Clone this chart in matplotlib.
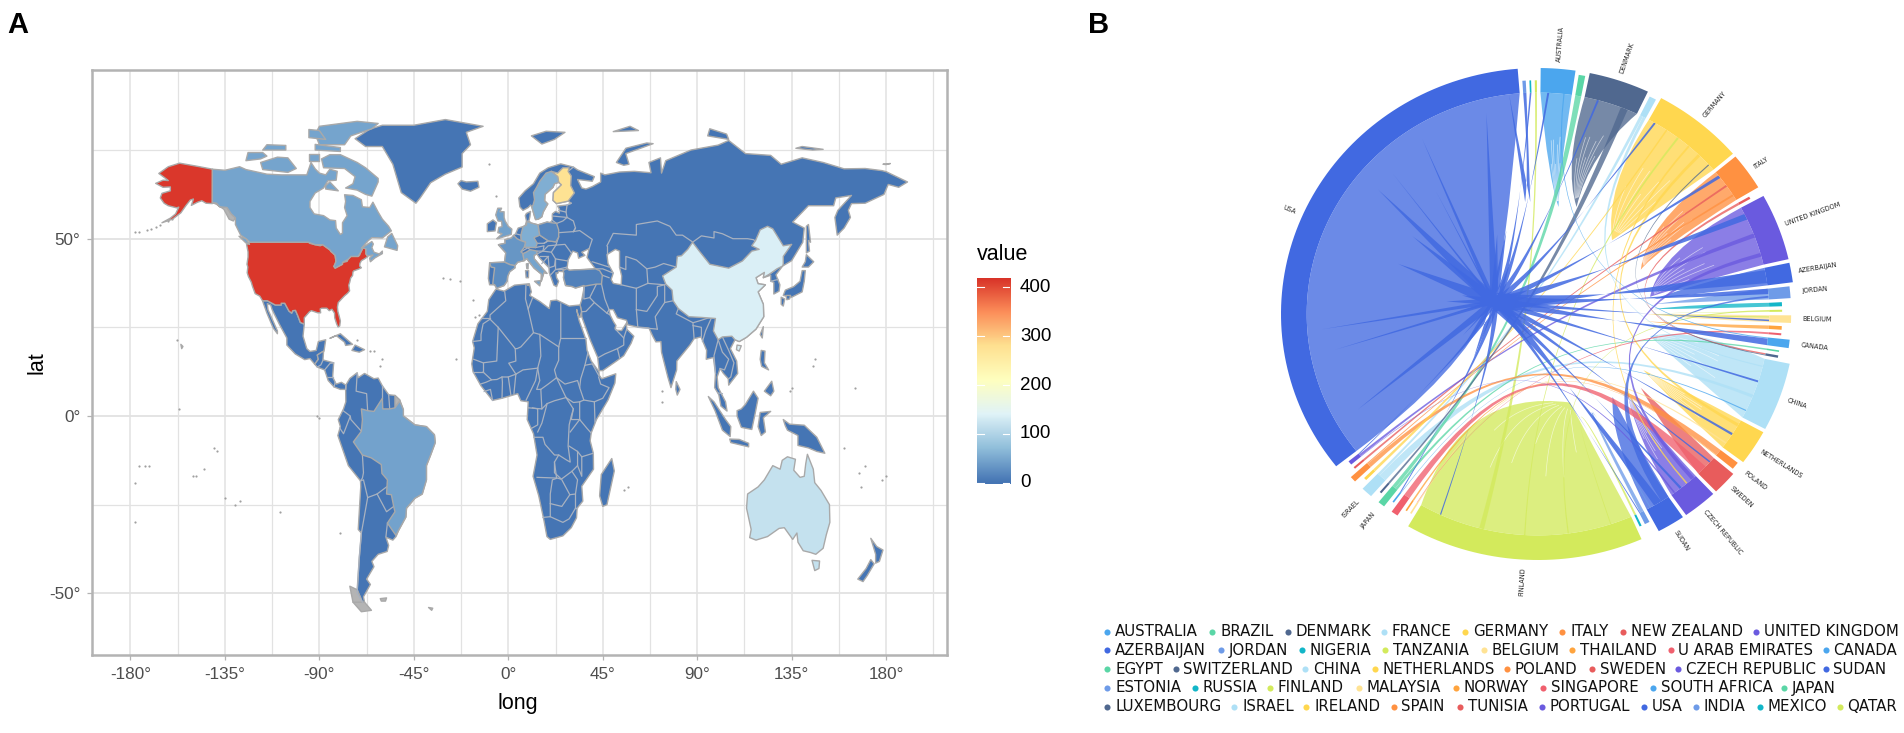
import numpy as np
import matplotlib
matplotlib.use('Agg')
import matplotlib.pyplot as plt
from matplotlib.path import Path
from matplotlib.patches import PathPatch, Polygon
from matplotlib.colors import LinearSegmentedColormap, Normalize

W, H = 1904, 733
NARROW = ['Liberation Sans', 'DejaVu Sans']

# ---------------------------------------------------------------- map data
map_values = {'USA': 415, 'ALASKA': 415, 'CANADA': 45, 'BRAZIL': 43, 'CHINA': 135, 'AUSTRALIA': 115,
              'FINLAND': 275, 'SWEDEN': 55, 'GERMANY': 55, 'FRANCE': 32, 'UK': 42, 'SPAIN': 22,
              'ITALY': 45, 'POLAND': 18, 'TURKEY': 12, 'BASE': 0}

land_base = [
 [(-9.5,38.8),(-8.9,43.2),(-1.8,43.4),(-1.2,46),(-4.7,48.3),(-1.5,48.7),(-1.6,49.7),(1.5,50.2),(3.5,51.4),(4.7,53),(8,53.6),(8.7,54.9),(8.1,56.5),(8.6,57.1),(10.6,57.7),(10.3,56.2),(9.8,55),(10.9,54.4),(14.2,53.9),(18.5,54.7),(19.8,54.4),(21,55.2),(21,57),(22.5,57.7),(24.3,57.2),(24.4,58.3),(23.5,59.2),(28,59.5),(30,60),(28.5,60.6),(23,59.9),(21.3,60.8),(21.5,63),(25.3,65.2),(24,65.9),(22,65.5),(21.3,64.5),(17.5,62.5),(17.3,60.7),(18.8,59.8),(16.6,57.5),(16,56.2),(14.3,55.5),(13,55.4),(12.5,56.3),(11.2,59),(10.6,59.5),(9.5,58.8),(7,58),(5.5,59),(5,61.5),(8,63.5),(12,65.5),(15,68.5),(19,70),(25,71.1),(31,70.2),(33,69.4),(41,67.5),(40,66.2),(33,66.7),(35,64.3),(37,64),(40,64.7),(44,66),(44,68.5),(46,68),(53,68.8),(60,69),(68,68.6),(67,71.5),(72.5,72.8),(73,68.5),(75,72),(81,73.5),(87,75),(100,76.4),(105,77.7),(113,74),(125,73.5),(130,71),(140,72.8),(150,71.5),(160,69.7),(170,69.8),(178,69.2),(180,68.9),(190.2,66),(186,64.5),(181,65.3),(179,62.5),(170,60),(163.5,59.9),(162,58),(163,56),(160,53),(156.7,51),(155.6,56),(157,58),(163.5,62.2),(156,61.5),(155,59.3),(143,59.3),(135.5,54.7),(141,53),(140.3,49),(135,43.8),(130.7,42.3),(127.5,39.8),(129.4,37),(129,35.2),(126.5,34.4),(126.5,37.7),(125,38),(125,39.7),(121.5,39),(122,40.5),(118,39),(119,37.3),(122.5,37),(119,35),(121.5,31.5),(121.7,28),(118,24.5),(113.5,22.2),(110,21),(108,21.5),(105.8,19),(108.8,15.5),(109.3,12),(105,8.7),(104.8,10.5),(102.5,12),(100.9,13.4),(99.5,11),(100,8),(103.5,4),(104.2,1.4),(101.3,2.8),(100.3,6),(98.3,8),(98.7,12),(97.7,16.5),(94.3,16),(94.5,18.5),(91.8,22.3),(88.5,21.8),(86.5,20),(80.3,15.5),(80.2,13),(77.5,8),(76,11),(73,18),(72.7,21),(70.3,20.9),(69,22.3),(67,24.8),(61.5,25.1),(57,25.7),(56.3,27),(52,27.7),(50,30),(48,30),(48.5,28.5),(50.2,26.5),(51.3,25.5),(50.8,24.8),(51.5,24.2),(54,24.1),(56.3,26.2),(56.4,24.5),(59.8,22.5),(58.5,20.5),(55,17),(52,15.7),(45,12.8),(43.3,12.8),(42.6,16.5),(39,21.5),(35,28),(34.9,29.5),(34.2,31.3),(35,32.8),(35.9,35.5),(36,36.8),(32,36.1),(30.5,36.5),(27.3,36.8),(26.3,39),(26.5,40.3),(29,41),(31.5,41.2),(36,41.3),(41.5,41.5),(37.5,44.7),(38.5,47.2),(35,46.2),(36.5,45.3),(33.5,44.5),(33,46),(30.7,46.5),(28.5,44),(28,41.6),(29,41.1),(26.3,40.7),(24,40.8),(23.5,40.2),(22.7,40.4),(23,39),(24,38),(23,36.5),(21.7,36.9),(19.5,40.5),(19.4,41.8),(15,44.5),(13.6,45.7),(12.3,45.3),(12.4,44.3),(16,41.8),(18.4,40.2),(17,40.5),(15.7,38),(15.8,40),(12.3,41.7),(10.3,43.2),(8.8,44.4),(7.5,43.8),(4.5,43.4),(3.1,42.4),(3.2,41.8),(0.7,40.7),(-0.3,39.4),(-0.6,38),(-2,36.8),(-5.5,36),(-6.5,37),(-8.9,37),(-9.5,38.8)],
 [(-5.9,35.8),(-2,35.2),(3,36.9),(10,37.3),(11,35),(10.2,34),(15,32.3),(19.5,30.3),(20.2,32.5),(23,32.7),(29,31),(32.3,31.2),(34.2,31.3),(34.9,29.5),(34.2,27.8),(33.2,28.5),(32.6,30),(33.7,27),(35.5,24),(37,21.5),(37.5,18.5),(39.5,15.5),(43.2,12.5),(43.3,11.5),(44.5,10.5),(51.2,11.9),(50.8,9.3),(47.5,4.5),(42,-1),(39.5,-4.8),(39,-7),(40.5,-10.5),(40.6,-15),(35,-19.8),(35.5,-24),(32.8,-26),(32.5,-28.7),(30,-31.5),(26,-33.8),(20,-34.8),(18.4,-34),(17,-29.5),(14.5,-22.5),(11.8,-17),(13.7,-11),(12,-5),(9,-1),(9.5,4),(6,4.3),(4.5,6.3),(-3,5),(-7.5,4.4),(-13,8.5),(-16.8,12.5),(-17.4,14.7),(-16.2,19.2),(-17,21),(-14.5,26),(-10,29.5),(-9.3,32.8)],
 [(-77.4,8.7),(-75.5,10.6),(-72,12.2),(-71.5,10.8),(-68.5,12),(-64,10.5),(-62,10.7),(-60,8.5),(-57,6),(-54,5.8),(-51.7,4.5),(-50,1.8),(-50,0),(-44.5,-2.5),(-39,-3),(-35.2,-5.3),(-34.8,-7.5),(-37,-11),(-39,-14),(-39,-18),(-41,-22),(-44.5,-23.2),(-48.5,-26),(-48.8,-28.5),(-52.3,-32.3),(-53.5,-34),(-55,-35),(-58.3,-34.2),(-57,-36.5),(-57.7,-38.2),(-62,-39),(-65,-41),(-64,-42.5),(-67.5,-46),(-65.7,-47.5),(-69,-51),(-68.5,-52.5),(-69.5,-52.5),(-72,-49),(-71,-40),(-70,-33),(-71.5,-32),(-70.3,-20),(-70.4,-18.3),(-76.2,-14),(-81.2,-5.5),(-80,-3),(-81,-1),(-78.5,2),(-77.4,4),(-77.5,7.5)],
 [(-117.1,32.5),(-114.8,32.5),(-111,31.3),(-108.2,31.3),(-108.2,31.8),(-106.5,31.8),(-104.5,29.6),(-103.2,29),(-102.7,29.7),(-101.4,29.8),(-100.3,28.3),(-99.1,26.4),(-97.2,25.9),(-97.8,22.5),(-96,19),(-94.5,18.2),(-91.5,18.5),(-90.5,21),(-87,21.5),(-87.8,18.3),(-89.1,17.9),(-91,17.2),(-90.5,16),(-92.2,14.6),(-94.5,16.2),(-97,15.9),(-101.5,17.5),(-105.5,20),(-105.5,22),(-109,25.8),(-112.5,30),(-113.2,31.3),(-114.8,31.7),(-114.5,30),(-110,24),(-110,23.2),(-112,24.8),(-115,29)],
 [(-92.2,14.6),(-90.5,16),(-91,17.2),(-89.1,17.9),(-88,18.3),(-88.3,15.8),(-83.2,15),(-83.7,11),(-82,9),(-79.5,9.5),(-77.4,8.7),(-77.5,7.5),(-80,7.5),(-83,8.2),(-85.8,10),(-87.5,13),(-91,13.8)],
 [(-73,78.2),(-68,76),(-60,76),(-55,71),(-53,67),(-51,63),(-44,60),(-42,61.5),(-37,65.8),(-30,68.2),(-22,70.2),(-22,74),(-18,76.5),(-20,80),(-12,81.7),(-30,83.6),(-45,82),(-60,82),(-66,80.9)],
 [(-24,65.5),(-22,64),(-18,63.4),(-14,64.5),(-14.5,66.2),(-20,66),(-22.5,66.4)],
 [(-10,52),(-6.3,52.2),(-6,53.5),(-5.6,54.5),(-7.3,55.3),(-10,54.2)],
 [(131,-1),(134,-2.3),(141,-2.6),(147,-6),(150.8,-10.5),(147,-10),(143,-9),(138,-8.3),(138,-5.5),(133,-4),(132,-2.8)],
 [(109,1.5),(111,2),(113,3.3),(116.8,7),(119,5),(117.7,1),(116,-3.8),(111,-3.2),(109,0)],
 [(95.3,5.5),(98,4),(103.5,-1),(106,-3),(105.7,-5.8),(102,-4),(98.5,1.5)],
 [(105.5,-6.5),(110,-6.6),(114.5,-7.7),(114.5,-8.7),(106,-7.5)],
 [(120,1),(125,1.3),(121.5,-.5),(122.5,-4.5),(120.5,-5.5),(119,-3)],
 [(120.5,18.5),(122.3,18.3),(122,15),(124,13),(120.7,14),(120,16)],
 [(122,7),(125.5,9.8),(126.5,7),(125,5.7)],
 [(80,9.7),(81.8,7.5),(80.5,5.9),(79.8,7.5)],
 [(49.3,-12),(50.5,-15.5),(47,-25),(45,-25.5),(43.5,-22.5),(44.3,-16.5)],
 [(172.7,-34.5),(175.5,-36.8),(178.5,-37.8),(176.8,-41),(175,-41.5),(175,-39),(174,-37)],
 [(172.7,-40.5),(174.3,-41.7),(171,-45),(169,-46.7),(166.5,-46),(170.5,-43)],
 [(131,34),(135,33.5),(140,35),(141,38),(141.5,41),(140,41),(139,38),(136,36.5),(132,35.5)],
 [(130,33.5),(131.7,33),(131,31),(130,31.5)],
 [(132.3,34),(134.5,34),(134,33),(132.7,32.8)],
 [(140,42),(143,42),(145.5,43.5),(142,45.5),(141.5,43.5)],
 [(142,46),(143.5,46.5),(143,49.5),(144,49),(143,54),(142,53.5),(142,49)],
 [(-85,21.9),(-80,23.2),(-74.2,20.2),(-77.5,19.9),(-78,20.8),(-82,22.7)],
 [(-74.5,18.5),(-73,20),(-68.5,18.7),(-71,18)],
 [(51.5,71.5),(55,70.7),(57.5,71),(56,74),(69,76.8),(66,77),(56,75.5)],
 [(11,79),(16,76.7),(22,78),(27,80),(18,80.3)],
 [(50,80.2),(62,80.5),(58,81.7)],
 [(95,79),(105,78),(104,79.5),(96,81)],
 [(137,75.5),(145,75),(150,75.2),(140,76)],
 [(178.5,71),(182,71.2),(180,70.9)],
 [(120,23),(121.5,25.2),(121,22)],
 [(8.2,41),(9.7,41),(9.6,39),(8.5,39)],
]
no_data = [
 [(-54,5.8),(-51.7,4.5),(-51.7,4.2),(-54,2.3)],
 [(-61,-51.5),(-58,-51.3),(-58.5,-52.2),(-60.5,-52.2)],
 [(-38,-54),(-36,-54.2),(-36.5,-54.8)],
 [(-74,-52.5),(-69.5,-52.5),(-68.5,-52.5),(-65.2,-54.8),(-70,-55.2)],
 [(-75.5,-48),(-72,-49),(-69.5,-52.5),(-74,-52.5)],
 [(-156,20.2),(-155,19.6),(-155.6,19)],
 [(-141,60.2),(-139,59.7),(-135.5,58.3),(-133,55.5),(-131,55),(-130,55.9),(-132,57),(-134,58.8),(-137.5,59),(-139,60)],
 [(9,37),(9.8,37),(9.5,36.8)],
]
country_shapes = {
 'USA': [[(-124.7,48.4),(-123,49),(-95.2,49),(-94.6,48.7),(-92,48.3),(-89.6,48),(-88.4,48.3),(-84.9,46.8),(-84.5,46.4),(-83.6,46.1),(-82.5,45.3),(-82.1,43.6),(-82.5,42.6),(-83.1,42.2),(-82.5,41.7),(-79,42.8),(-79,43.3),(-76.8,43.6),(-76.3,44.2),(-75,45),(-71.5,45),(-70.9,45.3),(-70.3,46.2),(-69.9,46.7),(-69.2,47.4),(-68.3,47.3),(-67.8,47.1),(-67.8,45.7),(-67,44.9),(-68.5,44.3),(-70,43.8),(-70.7,43),(-70.8,42.3),(-70,41.8),(-71.4,41.4),(-73.7,40.9),(-74,40.6),(-74.2,39.6),(-75.1,38.9),(-75.5,37.8),(-76,36.9),(-75.6,35.3),(-76.6,34.6),(-78,33.9),(-79.3,33.1),(-81,32),(-81.4,30.7),(-81.2,29.5),(-80.5,28),(-80,26.8),(-80.3,25.4),(-81.1,25.1),(-81.8,26),(-82.7,27.7),(-82.8,29),(-84,30.1),(-85.3,29.7),(-86.5,30.4),(-88.9,30.4),(-89.6,30.2),(-89.4,29.1),(-90.8,29.1),(-93.8,29.7),(-94.7,29.4),(-97.2,27.7),(-97.2,25.9),(-99.1,26.4),(-100.3,28.3),(-101.4,29.8),(-102.7,29.7),(-103.2,29),(-104.5,29.6),(-106.5,31.8),(-108.2,31.8),(-108.2,31.3),(-111,31.3),(-114.8,32.5),(-117.1,32.5),(-118.4,33.8),(-120.6,34.5),(-121.9,36.6),(-122.5,37.8),(-123.8,39.3),(-124.4,40.4),(-124.1,42),(-124.5,42.8),(-124,44.8),(-124,46.3)]],
 'ALASKA': [[(-140.9,69.6),(-148,70.4),(-156.6,71.3),(-162,70.3),(-166.5,68.4),(-163.5,67.1),(-162,66.4),(-164.5,66.5),(-168,65.6),(-164.5,64.5),(-161,64.6),(-161,63.5),(-165,62.8),(-165.8,61.5),(-164,60),(-162,59.3),(-158,58.7),(-157,58.9),(-158.5,57),(-161,55.8),(-165,54.5),(-160,55.5),(-156,57.3),(-153.5,59.4),(-151.5,60.9),(-150,61.2),(-151,59.4),(-148,60.3),(-146,60.7),(-144,60),(-141,59.9)]],
 'CANADA': [[(-141,69.6),(-135,69.3),(-128,70.3),(-125,69.5),(-115,68.2),(-108,68),(-102,68),(-96,68),(-94,71.5),(-92,69.7),(-90,68.5),(-87,68),(-85,69.6),(-81.5,69),(-82,66.5),(-86,66.3),(-88,64.3),(-92,62.9),(-94.5,60.5),(-94.5,58.8),(-92.5,57),(-88,56.5),(-85,55.3),(-82.3,55.1),(-82,53),(-80,51.2),(-79,51.6),(-79,54.5),(-76.8,56.5),(-78,58.8),(-77.5,60.5),(-78,62.4),(-74,62.2),(-70,61),(-69.5,59),(-66,58.8),(-64.5,60.3),(-62,57.5),(-60,55.5),(-57,53.5),(-55.7,52.2),(-60,50.2),(-65,50.3),(-67,49.3),(-70,47.3),(-65,49.2),(-64.3,48.5),(-65,47.5),(-64,46.2),(-61.5,45.7),(-60,46.5),(-60,45.8),(-63.5,44.6),(-65.7,43.5),(-66.1,44.5),(-64.5,45.4),(-67,45.1),(-67.8,45.7),(-67.8,47.1),(-69.2,47.4),(-70.3,46.2),(-71.5,45),(-75,45),(-76.3,44.2),(-79,43.3),(-79,42.8),(-82.5,41.7),(-83.1,42.2),(-82.1,43.6),(-82.5,45.3),(-84.5,46.4),(-84.9,46.8),(-88.4,48.3),(-92,48.3),(-95.2,49),(-123,49),(-125,50),(-127.5,51),(-130,54),(-130,55.9),(-132,57),(-134,58.8),(-137.5,59),(-139,60),(-141,60.2)],
   [(-62,66),(-65,62),(-68,62.5),(-72,63.7),(-77.5,64.3),(-74,65.5),(-73,67.5),(-78,69.8),(-88,70),(-89,72.5),(-85,73.7),(-80,73.7),(-72,71.5),(-68,70),(-62,67)],
   [(-117,69.5),(-105,68.7),(-101,69.8),(-105,72.8),(-110,73),(-118,71.5)],
   [(-125,72),(-118,72.5),(-115,73.3),(-117,74.3),(-124,74.3)],
   [(-117,75),(-106,75),(-106,76.3),(-115,76.5)],
   [(-90,76.5),(-78,76.5),(-75,79),(-65,81),(-62,82.5),(-72,83.1),(-90,81.7),(-92,79.5)],
   [(-95,78.5),(-87,78),(-90,80.5),(-95,80.8)],
   [(-92,75),(-80,74.6),(-80,75.7),(-92,76.6)],
   [(-95,72),(-90,72),(-90,74),(-95,74)],
   [(-87,64),(-81,63.5),(-85,66),(-87,65)],
   [(-59,47.7),(-53,46.7),(-52.7,48),(-55.5,51.5),(-57.5,50.5)],
   [(-128.3,50.7),(-125,50),(-123.3,48.4),(-125,48.8)]],
 'BRAZIL': [[(-51.7,4.2),(-50,1.8),(-50,0),(-44.5,-2.5),(-39,-3),(-35.2,-5.3),(-34.8,-7.5),(-37,-11),(-39,-14),(-39,-18),(-41,-22),(-44.5,-23.2),(-48.5,-26),(-48.8,-28.5),(-52.3,-32.3),(-53.5,-33.7),(-57.6,-30.2),(-54,-27),(-54.6,-25.5),(-55.7,-22.2),(-58,-22),(-57.6,-18),(-60.2,-16.2),(-60.5,-13.7),(-65.3,-11.8),(-69.5,-11),(-73.8,-7.3),(-70,-4.3),(-69.5,-1),(-70,2),(-67,1.5),(-64,1.3),(-60,5),(-59.8,2),(-56.5,2),(-54,2.3)]],
 'CHINA': [[(73.5,39.5),(80,42),(80.5,45),(82.5,45.2),(85.5,47),(87.8,49),(91,46.5),(96,42.8),(105,41.7),(111.5,43.7),(116,46.5),(119.5,47),(116,48),(117.8,49.5),(120,52.5),(123.5,53.5),(126,52.8),(131,48),(135,48.4),(131,45),(131,42.9),(130.7,42.3),(128,41.5),(124.4,40),(121.5,39),(122,40.5),(118,39),(119,37.3),(122.5,37),(119,35),(121.5,31.5),(121.7,28),(118,24.5),(113.5,22.2),(110,21),(108,21.5),(106.5,22.5),(102,22.3),(100,21.5),(97.7,24),(98.7,27.5),(92,27.8),(86,28),(81,30.3),(78.5,32.5),(78,35.5),(75,37.2)],
   [(109,20),(111,19.8),(110,18.3),(108.7,18.7)]],
 'AUSTRALIA': [[(114,-22),(113.5,-26),(115.7,-32),(115,-34.3),(118,-35),(123.5,-34),(129,-31.7),(131.5,-31.5),(135.5,-34.8),(137.5,-33),(138,-35.6),(140.5,-38),(144,-38.5),(146.5,-39),(150,-37.3),(151.5,-33.5),(153.2,-30),(153,-25),(149,-21),(146,-18.8),(145.3,-15),(142.5,-10.8),(141.7,-13.5),(141,-17),(139,-17.3),(136,-15.3),(136.8,-12.2),(133,-11.5),(130.5,-12.5),(129.5,-15),(126,-14),(122,-18),(119,-20)],
   [(144.7,-40.7),(148.3,-40.9),(148,-43),(146,-43.6)]],
 'FINLAND': [[(24,65.9),(25.3,65.2),(21.5,63),(21.3,60.8),(23,59.9),(28.5,60.6),(31.5,62.9),(29.7,65),(30,67.7),(28.5,69),(29,70),(26,70),(23.5,68.5),(20.5,69),(23.5,67.5)]],
 'SWEDEN': [[(11.2,59),(12.5,56.3),(13,55.4),(14.3,55.5),(16,56.2),(16.6,57.5),(18.8,59.8),(17.3,60.7),(17.5,62.5),(21.3,64.5),(22,65.5),(24,65.9),(23.5,67.5),(20.5,69),(18,68.5),(15,66.2),(13.5,64.5),(12,63),(12.5,61),(11.8,59.5)]],
 'GERMANY': [[(6,51),(7,53.4),(8.7,53.9),(8.7,54.9),(11,54.4),(14.2,53.9),(14.7,52),(15,51),(12.2,50.3),(13.8,48.7),(13,47.5),(7.6,47.6),(8.2,49),(6.2,49.5)]],
 'FRANCE': [[(-1.8,43.4),(-1.2,46),(-4.7,48.3),(-1.5,48.7),(-1.6,49.7),(1.5,50.2),(2.5,51),(4.2,50),(5.8,49.5),(8.2,49),(7.6,47.6),(6,46.3),(7,45.8),(7.5,43.8),(4.5,43.4),(3.1,42.4),(0.7,42.7)],
   [(8.6,42.9),(9.5,43),(9.4,41.5),(8.8,41.6)]],
 'UK': [[(-5,50),(1.4,51.2),(1.7,52.7),(0,53.5),(-1.5,55),(-2,56),(-2,57.6),(-4,57.6),(-3.2,58.6),(-5,58.6),(-6,56.7),(-4.9,55),(-3.2,54.9),(-3,53.4),(-4.5,53.2),(-5,51.7),(-3,51.4),(-5.5,50)]],
 'SPAIN': [[(-8.9,43.2),(-1.8,43.4),(0.7,42.7),(3.1,42.4),(3.2,41.8),(0.7,40.7),(-0.3,39.4),(-0.6,38),(-2,36.8),(-5.5,36),(-6.5,37),(-7.4,37.2),(-7,39.5),(-6.5,41.8),(-8.2,42)]],
 'ITALY': [[(7,45.8),(8.5,46.2),(10.5,46.9),(13.7,46.5),(13.6,45.7),(12.3,45.3),(12.4,44.3),(16,41.8),(18.4,40.2),(17,40.5),(15.7,38),(15.8,40),(12.3,41.7),(10.3,43.2),(8.8,44.4),(7.5,43.8)],
   [(12.5,38),(15.5,38.2),(15,36.7)]],
 'POLAND': [[(14.2,53.9),(18.5,54.7),(23,54.3),(24,52.5),(24,50.5),(22.7,49.1),(19,49.4),(15,51),(14.7,52)]],
 'TURKEY': [[(26,41),(28,41.6),(29,41.1),(31.5,41.2),(36,41.3),(41.5,41.5),(43.5,41),(44.8,39.7),(44.4,37.2),(42,37.2),(36.2,36.6),(36,36.8),(32,36.1),(30.5,36.5),(27.3,36.8),(26.3,39),(26.5,40.3)]],
}
caspian = [(47,45.5),(51,47),(53,46.5),(53,42),(54,39.5),(53.8,37),(50,37.4),(49,38.5),(50,40.3),(47.5,43)]
borders = [
 [(-1.7,35),(-1.2,32.5),(-8.7,28.5),(-8.7,27.3),(-4.8,25),(3.3,19),(4.2,19),(6,19.5),(12,23.5),(9.5,30),(8.2,33),(8.4,36.9)],
 [(-13,27.7),(-8.7,27.7)],[(11.5,33.2),(9.5,30.2)],[(25,31.6),(25,22),(24,19.5)],[(25,22),(37,22)],[(12,23.5),(15,23),(24,19.5)],
 [(3.3,19),(3.6,15.5),(0.2,14.9),(3.6,11.8),(7,13),(14,13.5),(15.5,16.9),(15,23)],[(14,13.5),(15,10),(13.5,7.5),(15.5,7.5),(19,9),(23,10.8),(22,13),(24,15.7),(24,19.5)],
 [(-17,21),(-13,21.3),(-13,23),(-12,26),(-8.7,27.3)],[(-4.8,25),(-5.5,15.5),(-12,15),(-16.5,16)],[(-12,15),(-12,12.4),(-16.8,12.4)],
 [(-12,12.4),(-8,10.2),(-5.4,10.3),(-3,11),(0,11),(3.6,11.8)],[(-13.3,9),(-10.7,9.5),(-8,10.2)],[(-11.5,6.9),(-8.5,7.5),(-7.5,4.4)],[(-3,5),(-2.8,9.5),(-3,11)],[(1.2,6),(0,11)],[(2.7,6.4),(3.6,11.8)],[(8.5,4.5),(13,10),(14,13.5)],
 [(9.7,2.3),(16,2),(15.5,7.5)],[(23,10.8),(27.5,5.2),(22,4.3),(18.5,3.5),(16,2)],[(11.5,2.3),(14,2),(14,-2.5),(11,-3.5)],
 [(12.2,-6),(16.5,-6),(17.5,-8),(22,-11),(24,-11),(28,-12.5),(29.5,-13),(28.5,-8.5),(29,-2.5),(30,0),(31,2),(27.5,5.2)],[(18.5,3.5),(16,-2),(14,-4.5)],
 [(13.7,-17.3),(23,-17.5),(22,-13),(24,-11)],[(16.5,-28.6),(20,-28.4),(20,-22),(21,-18),(23.4,-17.5),(25,-17.8)],[(20,-24.7),(25.5,-25.5),(29.3,-22.2),(25.5,-18)],
 [(22,-13),(22,-16),(25.3,-17.8),(30.3,-15.6),(33,-14),(33,-10),(29,-8.5)],[(29.3,-22.2),(32,-22),(33,-18),(30.3,-15.6)],[(32,-22),(32,-26),(32.8,-26)],[(33,-14),(35,-17),(35,-11.5),(40.5,-10.5)],
 [(33,-10),(35,-11.5)],[(29.5,-4.5),(34,-1),(37.5,-3.5),(39.3,-4.7)],[(34,-1),(34,4),(36,4.5),(41,4),(41.3,-1.7)],[(36,4.5),(34,8),(34.5,10.5),(36.5,14.3),(40,14.7),(43,11.5)],[(41,4),(45,5),(48,8),(44,9),(43,11)],
 [(23,10.8),(27,9),(33,10),(34,8)],[(27.5,5.2),(31,3.8),(34,4)],[(31,2),(30,-1),(34,-1)],[(36.5,14.3),(38,18)],[(32,-26),(29,-29),(26,-30),(20,-28.4)],
 [(21,56.4),(28,56)],[(23,54.3),(26,55),(28,56),(31,55),(32,53),(31,52),(24,51.7)],[(21,55.2),(23,54.3)],[(24,58),(27.5,57.5)],[(28,59.5),(27.5,57.5),(28,56)],
 [(24,50.5),(22.7,48.2),(27,48.4),(30,46)],[(31,52),(34,52.3),(40,49.8),(38.5,47.2)],[(22.7,48.2),(20.5,46.2),(22.5,44.3),(28.5,43.7)],[(22.5,44.3),(22.5,41.3),(26,41.7),(28,42)],[(20,39.7),(22.5,41.3),(26.3,41.3)],
 [(13.6,45.7),(16.5,46.5),(20.5,46.2)],[(16.5,46.5),(19,48),(22.7,48.2)],[(17,48.7),(19,49.4),(22.7,49.1)],[(15,51),(19,49.4),(17,48.7),(13.8,48.7)],[(13,47.5),(17,48),(16.5,46.5),(13.7,46.5)],[(9.5,47.3),(10.5,46.9)],[(6,46.3),(9.5,47.5)],
 [(19.4,41.8),(22,42.3),(22.5,44.3)],[(16,43),(19,45),(19.4,42)],[(15,45),(19,45)],[(3.5,51.4),(6,51)],[(6,51),(6.2,49.5)],[(8.7,54.9),(9.5,55)],[(5.8,49.5),(6.2,49.5)],
 [(28,59.5),(30,60)],[(28.5,69),(31,70.2)],[(47,48),(50,51.5),(61,51),(61,54),(71,55),(77,53.5),(80,51),(83,51),(87.5,49.2)],[(47,45.5),(47,48)],
 [(87.8,49),(92,50.8),(98,50.2),(98,52),(102,51.4),(107,50),(114,50),(117,49.7),(119.5,47)],[(53,42),(56,41.3),(56,45),(61,44),(66,41.5),(70,42),(74,43),(80,42)],
 [(53.8,37),(61,36),(66.5,37.4),(66,41.5)],[(61,36),(61,30),(66,29.5),(71,34),(71,36.5),(74.5,37),(66.5,37.4)],[(61,30),(61.7,25)],[(71,24.5),(70,28),(74.5,32),(74.5,37),(75,37.2)],[(61.7,25),(71,24.5)],
 [(44.8,39.7),(48,39)],[(44.4,37.2),(46,33),(48,30)],[(42,37.2),(38.8,33.4),(41,32),(47,29),(48,30)],[(36.2,36.6),(36,33),(38.8,33.4)],[(35,29.4),(37,29.5),(41,32)],[(47,29),(48.5,28.5)],
 [(51,24.5),(55,22),(55,20),(52,19),(53,16.5)],[(43,16.5),(46,17.5),(52,19)],[(55,22),(56.4,24.5)],[(78.5,32.5),(74.5,32)],[(81,30.3),(80,28.8),(88,26.3),(92,27),(97,28)],[(97,28),(94,24),(92.5,21)],[(88,26),(88.5,22)],[(88,25.5),(92,25),(92,22.5)],
 [(100,21.5),(98,17),(98.7,12)],[(100,21.5),(102,18),(105,16),(103,13),(100.9,13.4)],[(100,6.5),(102,6.3)],[(102,22.3),(105,18.5),(107.5,15),(106,11),(105,10.5)],[(125,38),(128.5,38.5)],[(40,43.5),(48,42)],[(41.5,41.5),(45,41.5),(50,40.3)],[(31,52),(32,53)],[(124.4,40),(128,41.5)],
 [(-72,12),(-72.5,7),(-67.5,6.3),(-67,1.5)],[(-60,8.5),(-60,5)],[(-57,6),(-56.5,2)],[(-78.7,1.5),(-75.3,0),(-75,-1),(-70,-4.3)],[(-80.3,-3.4),(-78.5,-5),(-75.3,-0.1)],[(-69.5,-11),(-69,-16),(-69.5,-17.5),(-70.4,-18.3)],
 [(-70.4,-18.3),(-69,-18),(-67,-23),(-70,-33),(-71,-40),(-72,-50),(-69.5,-52.5)],[(-67,-23),(-62.5,-22),(-58,-20)],[(-62.5,-22),(-58,-27),(-54.6,-25.5)],[(-58.3,-34),(-57.6,-30.2)],
 [(-91,13.8),(-89.3,14.4),(-88.3,15.7)],[(-87.5,13),(-85,14.8),(-83.2,15)],[(-85.8,11),(-83.7,11)],[(-83,8.2),(-82.5,9.5)],[(-77.5,7.5),(-77.4,8.7)],
]
island_lon = [-172,-170,-168,-166,-176,-178,-162,-160,-158,-176,-173,-171,-157,-150,-149,-145,-140,-139,-135,-130,-128,-178,-91,-90,-109,-80,-60,-61,-64,-66,-72,-25,-16,-17,-14,-23,-31,-28,-9,-6,57,55,73,73,145,146,167,168,160,178,170,165,135,134,180,-178]
island_lat = [52.5,52.8,53.2,53.8,52,51.8,55,55.5,21.4,-14,-14,-14,2,-17,-17,-15,-9,-10,-23,-25,-24,-30,0,-0.5,-27,-33,16,14,18.3,18.2,21.5,16,28,32.7,28.5,38,39,38.5,71,62,-20,-21,4,7,14,16,-16,-20,-9,-18,-14,8,8,7,-17,-19]

# ---------------------------------------------------------------- chord data
names = ['AUSTRALIA','BRAZIL','DENMARK','FRANCE','GERMANY','ITALY','NEW ZEALAND','UNITED KINGDOM',
         'AZERBAIJAN','JORDAN','NIGERIA','TANZANIA','BELGIUM','THAILAND','U ARAB EMIRATES','CANADA',
         'EGYPT','SWITZERLAND','CHINA','NETHERLANDS','POLAND','SWEDEN','CZECH REPUBLIC','SUDAN',
         'ESTONIA','RUSSIA','FINLAND','MALAYSIA','NORWAY','SINGAPORE','SOUTH AFRICA','JAPAN',
         'LUXEMBOURG','ISRAEL','IRELAND','SPAIN','TUNISIA','PORTUGAL','USA','INDIA','MEXICO','QATAR']
sizes = [7.8,1.5,13.7,1.6,20.7,8.8,.6,15.8,4.6,2.8,1,.5,1.8,.9,.5,2,.4,.6,16.2,8.3,1.8,5.6,7.8,6.3,
         1.2,.5,54.1,.4,.4,1.6,.4,1.6,.5,2.6,.7,1.4,.5,1,123.7,.8,.4,.5]
palette = ['#4BA6EE','#5AD6A6','#50688F','#AEE0F6','#FFD74F','#FF9141','#E85C5C','#6A5ADF','#4169E1',
           '#6E9BE8','#12B6C8','#D3EA5C','#FFE394','#FFA43E','#F0606E']
labelled = ['AUSTRALIA','DENMARK','GERMANY','ITALY','UNITED KINGDOM','AZERBAIJAN','JORDAN','BELGIUM','CANADA',
            'CHINA','NETHERLANDS','POLAND','SWEDEN','CZECH REPUBLIC','SUDAN','FINLAND','JAPAN','ISRAEL','USA']
fans = {
 'USA': ((-.18,.04),(-.30,-.24),(-.13,.18)),
 'FINLAND': ((.125,-.36),(.22,-.55),(-.30,-.30)),
 'GERMANY': ((.288,.30),(.26,.52),(.47,.43)),
 'DENMARK': ((.15,.435),(.1,.6),(.2,.65)),
 'AUSTRALIA': ((.08,.435),(.04,.55),(.08,.55)),
 'ITALY': ((.40,.18),(.42,.36),(.45,.25)),
 'UNITED KINGDOM': ((.436,.07),(.47,.25),(.52,.1)),
 'AZERBAIJAN': ((.45,.06),(.6,.12),(.6,.08)),
 'JORDAN': ((.45,.04),(.6,.06),(.6,.05)),
 'NIGERIA': ((.45,.02),(.6,.04),(.6,.02)),
 'BELGIUM': ((.42,.0),(.6,.0),(.6,-.02)),
 'THAILAND': ((.42,-.03),(.6,-.04),(.6,-.05)),
 'CHINA': ((.436,-.09),(.6,-.05),(.55,-.2)),
 'NETHERLANDS': ((.41,-.228),(.55,-.3),(.52,-.35)),
 'SWEDEN': ((.40,-.30),(.5,-.4),(.48,-.45)),
 'CZECH REPUBLIC': ((.345,-.31),(.4,-.42),(.38,-.5)),
 'SUDAN': ((.29,-.337),(.37,-.5),(.28,-.5)),
}
links = [
 ('USA','AUSTRALIA',.1,.5,.3),('USA','DENMARK',.1,.5,.3),('USA','GERMANY',.55,.5,.3),('USA','ITALY',.35,.8,.3),
 ('USA','UNITED KINGDOM',.5,1.6,.3),('USA','AZERBAIJAN',.5,3.4,.3),('USA','JORDAN',.3,2.3,.3),('USA','BELGIUM',.05,.4,.3),
 ('USA','CANADA',.3,1.7,.3),('USA','CHINA',.05,.5,.3),('USA','NETHERLANDS',.1,.6,.3),('USA','SWEDEN',.05,.4,.3),
 ('USA','CZECH REPUBLIC',.55,.6,.3),('USA','SUDAN',.5,2.4,.3),('USA','ESTONIA',.05,.3,.3),('USA','FINLAND',.05,.3,.3),
 ('USA','SOUTH AFRICA',.5,.4,.3),('USA','PORTUGAL',.05,.3,.3),('USA','INDIA',.9,.7,.3),('USA','MEXICO',.55,.4,.3),
 ('FINLAND','QATAR',1.2,.4,.22),('FINLAND','TANZANIA',.3,.5,.25),('FINLAND','GERMANY',.3,.5,.25),('FINLAND','RUSSIA',.2,.4,.3),
 ('FRANCE','ISRAEL',.8,.5,.2),('CHINA','ISRAEL',.8,1.6,.22),('CHINA','FRANCE',.3,.8,.25),('JAPAN','BRAZIL',.7,1.2,.22),
 ('EGYPT','JAPAN',.3,.5,.2),('SINGAPORE','SWEDEN',1.3,2.4,.2),('SPAIN','POLAND',1.2,1.7,.2),('TUNISIA','ITALY',.4,.5,.2),
 ('PORTUGAL','UNITED KINGDOM',.8,1.1,.2),('PORTUGAL','CZECH REPUBLIC',.2,.4,.2),('IRELAND','GERMANY',.5,.4,.2),
 ('LUXEMBOURG','DENMARK',.5,1.8,.2),('MALAYSIA','NETHERLANDS',.3,.4,.2),('NORWAY','POLAND',.3,.2,.2),
 ('ITALY','SPAIN',.5,.3,.2),('GERMANY','NETHERLANDS',.8,.8,.25),('GERMANY','CZECH REPUBLIC',.5,.4,.3),
 ('CZECH REPUBLIC','UNITED KINGDOM',1.0,1.0,.3),('SUDAN','JORDAN',2.2,.5,.35),('ESTONIA','SUDAN',1.2,.3,.3),
 ('NEW ZEALAND','SWITZERLAND',.5,.5,.3),('U ARAB EMIRATES','MALAYSIA',.5,.1,.3),('SWITZERLAND','GERMANY',.3,.3,.3),
 ('CANADA','AUSTRALIA',.3,.3,.3),('SOUTH AFRICA','CHINA',.2,.3,.2),('TANZANIA','BELGIUM',.2,.3,.3),
]
legend_rows = [
 ['AUSTRALIA','BRAZIL','DENMARK','FRANCE','GERMANY','ITALY','NEW ZEALAND','UNITED KINGDOM'],
 ['AZERBAIJAN','JORDAN','NIGERIA','TANZANIA','BELGIUM','THAILAND','U ARAB EMIRATES','CANADA'],
 ['EGYPT','SWITZERLAND','CHINA','NETHERLANDS','POLAND','SWEDEN','CZECH REPUBLIC','SUDAN'],
 ['ESTONIA','RUSSIA','FINLAND','MALAYSIA','NORWAY','SINGAPORE','SOUTH AFRICA','JAPAN'],
 ['LUXEMBOURG','ISRAEL','IRELAND','SPAIN','TUNISIA','PORTUGAL','USA','INDIA','MEXICO','QATAR'],
]
legend_x = [[52,252,396,579,733,918,1033,1287],[52,269,423,581,769,936,1124,1419],[52,182,429,561,812,975,1138,1419],
            [52,218,361,530,716,882,1091,1340],[52,294,431,597,724,879,1073,1172,1294,1446]]
legend_y = [631.7,650.3,669,688,706.7]

# ---------------------------------------------------------------- figure
fig = plt.figure(figsize=(W/100, H/100), dpi=100, facecolor='white')
def axpx(l, t, r, b, **kw):
    return fig.add_axes([l/W, 1-b/H, (r-l)/W, (b-t)/H], **kw)

PX_LON, X0, PX_LAT, Y0 = 2.099, 508.3, 3.546, 416.0
ax = axpx(92, 70, 947, 655)
ax.set_xlim((92-X0)/PX_LON, (947-X0)/PX_LON)
ax.set_ylim((Y0-655)/PX_LAT, (Y0-70)/PX_LAT)
cmap = LinearSegmentedColormap.from_list('ryb', ['#4575B4','#91BFDB','#E0F3F8','#FFFFBF','#FEE090','#FC8D59','#D73027'])
norm = Normalize(0, 420)
GRID, EDGE = '#E2E2E2', '#A9A9A9'
for v in np.arange(-180, 225, 45):
    ax.axvline(v, color=GRID, lw=1.1, zorder=0)
for v in np.arange(-157.5, 225, 45):
    ax.axvline(v, color=GRID, lw=0.9, zorder=0)
for v in [50, 0, -50]:
    ax.axhline(v, color=GRID, lw=1.3, zorder=0)
for v in [75, 25, -25]:
    ax.axhline(v, color=GRID, lw=0.9, zorder=0)
def poly(pts, fc, lw=1.0, z=2):
    ax.add_patch(Polygon(pts, closed=True, fc=fc, ec=EDGE, lw=lw, zorder=z, joinstyle='round'))
for p in land_base:
    poly(p, cmap(norm(map_values['BASE'])))
for p in no_data:
    poly(p, '#B4B4B4', z=2.2)
poly(caspian, 'white', z=2.1)
for x in borders:
    a = np.array(x)
    ax.plot(a[:,0], a[:,1], color='#A9B2C0', lw=0.9, zorder=2.5, solid_joinstyle='round')
for name, shapes in country_shapes.items():
    for p in shapes:
        poly(p, cmap(norm(map_values[name])), z=3)
ax.scatter(island_lon, island_lat, s=2.5, color='#A0A0A0', lw=0, zorder=2)
for s in ax.spines.values():
    s.set_color('#B3B3B3'); s.set_linewidth(1.8)
ax.set_xticks(np.arange(-180, 225, 45))
ax.set_xticklabels(['%d°' % v for v in np.arange(-180, 225, 45)], family=NARROW, fontsize=12.3, color='#4D4D4D')
ax.set_yticks([-50, 0, 50])
ax.set_yticklabels(['-50°', '0°', '50°'], family=NARROW, fontsize=12.3, color='#4D4D4D')
ax.tick_params(axis='both', length=3.5, width=0.9, color='#B3B3B3', pad=5)
fig.text(518/W, 1-703/H, 'long', family=NARROW, fontsize=15.5, ha='center', va='center', color='black')
fig.text(37/W, 1-363/H, 'lat', family=NARROW, fontsize=15.5, ha='center', va='center', rotation=90, color='black')

cax = axpx(977, 277.7, 1010, 484.3)
grad = np.linspace(419.6, -3, 256).reshape(-1, 1)
cax.imshow(grad, aspect='auto', cmap=cmap, norm=norm, extent=[0, 1, -3, 419.6])
cax.set_axis_off()
for v in [0, 100, 200, 300, 400]:
    cax.plot([0, .2], [v, v], color='white', lw=.8)
    cax.plot([.8, 1], [v, v], color='white', lw=.8)
    fig.text(1020/W, 1-(482.7-v*.488)/H, str(v), family=NARROW, fontsize=13.5, va='center', color='black')
fig.text(977/W, 1-255/H, 'value', family=NARROW, fontsize=15.5, va='center', color='black')

fig.text(7/W, 1-25/H, 'A', family=['Liberation Sans'], fontsize=21, fontweight='bold', va='center')
fig.text(1088/W, 1-25/H, 'B', family=['Liberation Sans'], fontsize=21, fontweight='bold', va='center')

# panel B ---------------------------------------------------------
CX, CY, RX, RY, EXT = 1538, 314, 257, 246, 1.25
cb = axpx(CX-RX*EXT, CY-RY*EXT, CX+RX*EXT, CY+RY*EXT)
cb.set_xlim(-EXT, EXT); cb.set_ylim(-EXT, EXT); cb.set_axis_off(); cb.patch.set_alpha(0)
colors = {n: palette[i % 15] for i, n in enumerate(names)}
gap = (360 - sum(sizes)) / len(sizes)
starts, pos = {}, 0.6
for n, s in zip(names, sizes):
    starts[n] = (pos, pos + s)
    pos += s + gap
RIN = 0.90
def e(t, r=1.0):
    t = np.deg2rad(t)
    return np.array([r*np.sin(t), r*np.cos(t)])
def arc(a, b, r=RIN, n=None):
    n = n or max(3, int(abs(b-a)/1.5)+2)
    return [e(t, r) for t in np.linspace(a, b, n)]
def add_path(verts, codes, color, alpha, z):
    cb.add_patch(PathPatch(Path(np.array(verts), codes), fc=color, ec='none', alpha=alpha, zorder=z))
def quad(P0, C, P1, n=18):
    t = np.linspace(0, 1, n)[:, None]
    return (1-t)**2*P0 + 2*t*(1-t)*C + t**2*P1
def bez_pts(P0, C1, C2, P3, n=24):
    t = np.linspace(0, 1, n)[:, None]
    return (1-t)**3*P0 + 3*t*(1-t)**2*C1 + 3*t**2*(1-t)*C2 + t**3*P3

def fan(name):
    a0, a1 = starts[name]
    apex, c0, c1 = fans[name]
    apex, c0, c1 = map(np.array, (apex, c0, c1))
    v = [e(a0, RIN), c0, apex, c1, e(a1, RIN)]
    c = [Path.MOVETO, Path.CURVE3, Path.CURVE3, Path.CURVE3, Path.CURVE3]
    for p in arc(a1, a0)[1:]:
        v.append(p); c.append(Path.LINETO)
    add_path(v, c, colors[name], .78, 3)
    if a1 - a0 > 7 and name != 'USA':
        for f in np.linspace(.18, .85, 7):
            t = a0 + f*(a1-a0)
            ctrl = c0*(1-f) + c1*f
            ts = np.linspace(.25 + .25*np.sin(f*9)**2, .9, 18)[:, None]
            P0 = e(t, RIN)
            pts = (1-ts)**2*P0 + 2*ts*(1-ts)*ctrl + ts**2*apex
            cb.plot(pts[:,0], pts[:,1], color='white', lw=.5, alpha=.6, zorder=3.2)
for n in fans:
    fan(n)

alloc = {n: [] for n in names}
for i, (a, b, wa, wb, k) in enumerate(links):
    alloc[a].append((i, 0, wa, b)); alloc[b].append((i, 1, wb, a))
sub = {}
for n, items in alloc.items():
    a0, a1 = starts[n]; span = a1 - a0; mid = (a0+a1)/2
    items.sort(key=lambda it: -(((sum(starts[it[3]])/2 - mid) % 360)))
    if not items:
        continue
    if n in fans:
        for j, it in enumerate(items):
            c = a0 + (j+.5)*span/len(items)
            w = min(it[2], span/len(items))
            sub[(it[0], it[1])] = (c-w/2, c+w/2)
    else:
        tot = sum(it[2] for it in items); p = a0
        for it in items:
            w = it[2]/tot*span
            sub[(it[0], it[1])] = (p, p+w); p += w

HUB = np.array([-.17, .05])
for i, (a, b, wa, wb, k) in enumerate(links):
    a0, a1 = sub[(i, 0)]; b0, b1 = sub[(i, 1)]
    col = colors[a]; z = 4 + 0.01*i
    if a == 'USA':
        h = .008*wb + .012
        bm = (b0+b1)/2
        d = e(bm); nrm = np.array([-d[1], d[0]])
        Ha = HUB + nrm*h; Hb = HUB - nrm*h
        C = HUB*.5 + e(bm, k)*.5
        am = (a0+a1)/2
        tip = e(am, min(.84, .25 + 1.1*wa))
        if b == 'INDIA':
            Ha = np.array([-.03, .455]); Hb = np.array([-.05, .455]); C = e(bm, .6)
            tip = e(a1, RIN)
        e1 = np.vstack([np.linspace(tip, Ha, 8), quad(Ha, C, e(b1, RIN))])
        e2 = np.vstack([quad(e(b0, RIN), C, Hb), np.linspace(Hb, tip, 8)])
        verts = np.vstack([e1, np.array(arc(b1, b0)), e2])
        cb.fill(verts[:,0], verts[:,1], color=col, alpha=.85, lw=0, zorder=z+2)
    else:
        e1 = bez_pts(e(a0, RIN), e(a0, k), e(b1, k), e(b1, RIN))
        e2 = bez_pts(e(b0, RIN), e(b0, k), e(a1, k), e(a1, RIN))
        verts = np.vstack([e1, np.array(arc(b1, b0)), e2, np.array(arc(a1, a0))])
        cb.fill(verts[:,0], verts[:,1], color=col, alpha=.78, lw=0, zorder=z)

for n in names:
    a0, a1 = starts[n]
    pts = np.array(arc(a0, a1, 1.0) + arc(a1, a0, RIN))
    if a1 - a0 < 2.9:
        pts = np.array(arc(a0, a1, 0.985) + arc(a1, a0, RIN))
    if a1 - a0 < 1.3:
        pts = np.array(arc(a0, a1, 0.95) + arc(a1, a0, RIN))
    cb.fill(pts[:,0], pts[:,1], color=colors[n], lw=0, zorder=8)
    if n in labelled:
        m = (a0+a1)/2
        x, y = e(m, 1.03)
        rot = np.rad2deg(np.arctan2(y*RY, x*RX))
        ha = 'left'
        if x < 0:
            rot += 180; ha = 'right'
        cb.text(x, y, n, fontsize=4.7, rotation=rot, rotation_mode='anchor', ha=ha, va='center', color='#222222', zorder=9)

for row, xs, y in zip(legend_rows, legend_x, legend_y):
    for n, zx in zip(row, xs):
        px = 1080 + zx/1.903
        fig.text((px+7.7)/W, 1-y/H, n, fontsize=10.8, va='center', ha='left', color='#111111')
        fig.add_artist(plt.Line2D([px/W], [1-y/H], marker='o', ms=4.4, color=colors[n], mew=0, transform=fig.transFigure))

fig.savefig('out.png', dpi=100)
